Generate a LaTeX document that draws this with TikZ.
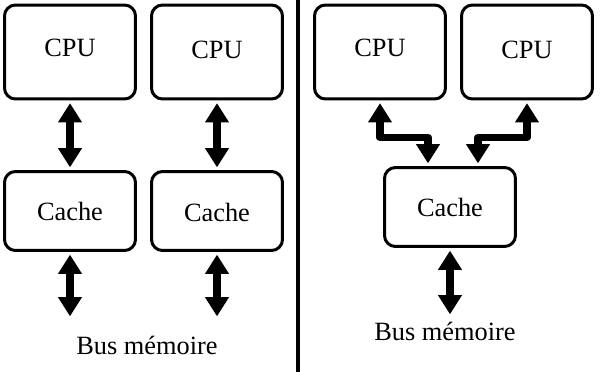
\documentclass[tikz,border=0pt]{standalone}
\usepackage{fontspec}
\setmainfont{Liberation Serif}
\usetikzlibrary{arrows.meta,positioning}
\tikzset{
  every node/.style={font=\fontsize{15}{18}\selectfont},
  unit/.style={draw,line width=1.7pt,rounded corners=0.22cm,
    minimum width=2.62cm,minimum height=1.88cm,inner sep=0pt},
  cachebox/.style={unit,minimum height=1.58cm},
  dblarrow/.style={line width=4.4pt,line join=round,
    {Triangle[length=11pt,width=13pt]}-{Triangle[length=11pt,width=13pt]},
    shorten <=1.5pt,shorten >=1.5pt},
  divider/.style={line width=2.2pt}}

\begin{document}
\begin{tikzpicture}[x=0.02cm,y=-0.02cm]
\useasboundingbox (0,0) rectangle (600,372);
% private caches
\node[unit] (cpuA) at (70,52) {};
\node at (70,48) {CPU};
\node[unit] (cpuB) at (217,52) {};
\node at (217,50) {CPU};
\node[cachebox] (cacheA) at (70,211) {Cache};
\node[cachebox] (cacheB) at (217,211) {};
\node at (217,212) {Cache};
\coordinate (busA) at (70,319);
\coordinate (busB) at (217,319);
\node (busL) at (147,345) {Bus mémoire};
\draw[dblarrow] (cpuA) -- (cacheA);
\draw[dblarrow] (cpuB) -- (cacheB);
\draw[dblarrow] (cacheA) -- (busA);
\draw[dblarrow] (cacheB) -- (busB);
% separation
\coordinate (sepTop) at (298,0);
\coordinate (sepBot) at (298,372);
\draw[divider] (sepTop) -- (sepBot);
% shared cache
\node[unit] (cpuC) at (380,52) {};
\node at (380,48) {CPU};
\node[unit] (cpuD) at (527,52) {};
\node at (527,50) {CPU};
\node[cachebox] (cacheC) at (450,207) {Cache};
\coordinate (busC) at (450,317);
\node (busR) at (445,331) {Bus mémoire};
\draw[dblarrow] (cpuC.south) -- ++(0,37) -| ([xshift=-0.44cm]cacheC.north);
\draw[dblarrow] (cpuD.south) -- ++(0,37) -| ([xshift=0.56cm]cacheC.north);
\draw[dblarrow] (cacheC) -- (busC);
\end{tikzpicture}
\end{document}
